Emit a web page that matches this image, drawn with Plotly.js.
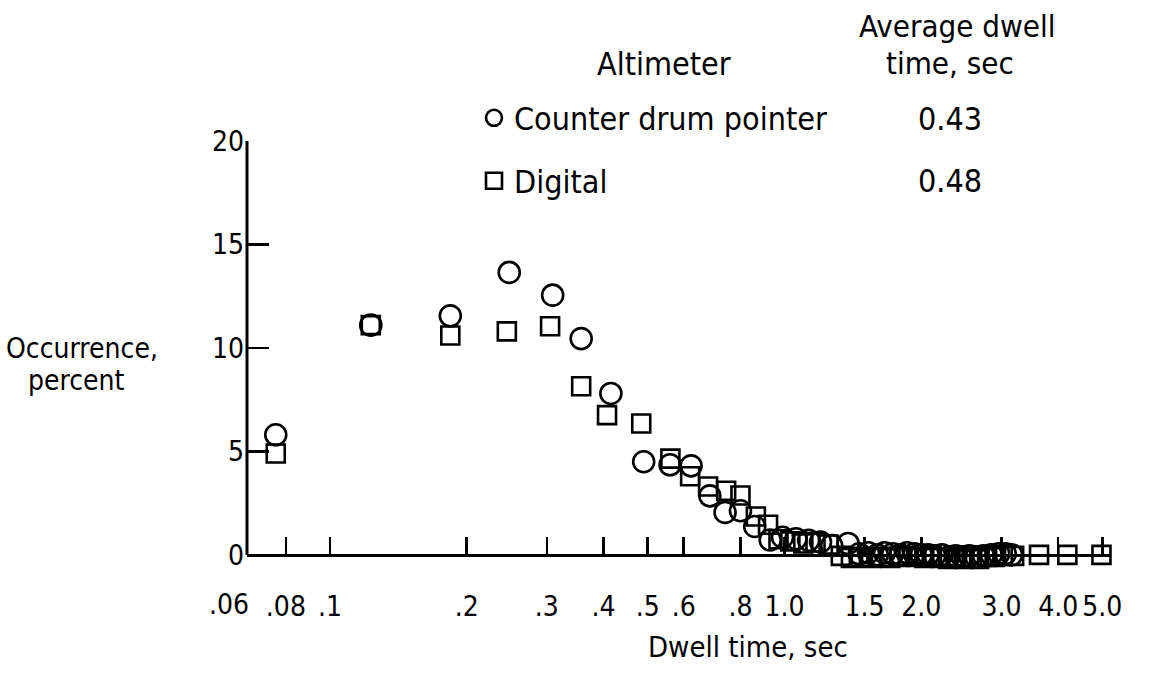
<!DOCTYPE html>
<html>
<head>
<meta charset="utf-8">
<script src="https://cdn.plot.ly/plotly-3.0.1.min.js"></script>
<style>
  html, body { margin: 0; padding: 0; background: #ffffff; }
  #chart { width: 1154px; height: 691px; }
</style>
</head>
<body>
<div id="chart"></div>
<script>
// ---------------- data ----------------
const seriesNames = ['Counter drum pointer', 'Digital'];
const avgDwellText = ['0.43', '0.48'];

const counterX = [0.076, 0.123, 0.184, 0.248, 0.309, 0.357, 0.415, 0.49, 0.56, 0.623, 0.685, 0.74, 0.80, 0.86,
  0.93, 0.99, 1.06, 1.13, 1.20, 1.27, 1.38, 1.46, 1.53, 1.60, 1.66, 1.73, 1.80, 1.86, 1.93, 2.00,
  2.07, 2.14, 2.22, 2.30, 2.38, 2.46, 2.55, 2.64, 2.74, 2.85, 2.96, 3.06, 3.16];
const counterY = [5.8, 11.1, 11.55, 13.65, 12.55, 10.45, 7.8, 4.5, 4.35, 4.3, 2.85, 2.05, 2.13, 1.37,
  0.72, 0.85, 0.78, 0.7, 0.62, 0.45, 0.55, 0.05, 0.1, 0.0, 0.1, 0.05, 0.0, 0.1, 0.05, 0.0,
  0.0, -0.05, 0.0, -0.1, -0.05, -0.1, -0.05, -0.1, -0.05, 0.0, 0.05, 0.05, 0.0];

const digitalX = [0.076, 0.123, 0.184, 0.245, 0.305, 0.357, 0.407, 0.484, 0.561, 0.62, 0.679, 0.744, 0.80,
  0.865, 0.92, 0.97, 1.03, 1.10, 1.17, 1.25, 1.33, 1.40, 1.47, 1.55, 1.63, 1.71, 1.79, 1.87, 1.95,
  2.03, 2.11, 2.20, 2.29, 2.38, 2.48, 2.58, 2.68, 2.79, 2.90, 3.02, 3.20, 3.63, 4.19, 4.98];
const digitalY = [4.9, 11.1, 10.6, 10.8, 11.05, 8.15, 6.75, 6.35, 4.65, 3.8, 3.3, 3.1, 2.87,
  1.85, 1.45, 0.75, 0.65, 0.55, 0.6, 0.5, -0.05, -0.15, -0.1, -0.15, -0.1, -0.15, -0.1, -0.05, -0.1,
  -0.15, -0.1, -0.15, -0.2, -0.15, -0.2, -0.15, -0.2, -0.1, -0.1, -0.05, -0.05, 0.0, 0.0, 0.0];

const xTickVals = [0.06, 0.08, 0.1, 0.2, 0.3, 0.4, 0.5, 0.6, 0.8, 1.0, 1.5, 2.0, 3.0, 4.0, 5.0];
const xTickText = ['.06', '.08', '.1', '.2', '.3', '.4', '.5', '.6', '.8', '1.0', '1.5', '2.0', '3.0', '4.0', '5.0'];
const yTickVals = [0, 5, 10, 15, 20];
const yTickText = ['0', '5', '10', '15', '20'];

const xTitle = 'Dwell time, sec';
const yTitleLines = ['Occurrence,', 'percent'];
const headerAltimeter = 'Altimeter';
const headerAvgLines = ['Average dwell', 'time, sec'];

// ---------------- layout helpers ----------------
const W = 1154, H = 691;
const M = { l: 247, r: 44, t: 141, b: 131 };
const PW = W - M.l - M.r, PH = H - M.t - M.b;
const px = x => (x - M.l) / PW;       // pixel -> paper x
const py = y => (H - M.b - y) / PH;   // pixel -> paper y

const xRange = [Math.log10(0.0657), Math.log10(5.2)];
const yRange = [-0.25, 20];            // a little room below 0 so markers just under the axis stay visible
const xPaper = v => (Math.log10(v) - xRange[0]) / (xRange[1] - xRange[0]); // data -> paper via axis range
const yZeroPaper = (0 - yRange[0]) / (yRange[1] - yRange[0]);

const COND = '"DejaVu Sans Condensed", "DejaVu Sans", sans-serif';
const TICKSIZE = 28;

const LW = 2.6;

const traces = [
  {
    type: 'scatter', mode: 'markers', name: seriesNames[0],
    x: counterX, y: counterY, cliponaxis: false, legend: 'legend',
    marker: { symbol: 'circle-open', size: 21, color: '#000', line: { width: LW, color: '#000' } }
  },
  {
    type: 'scatter', mode: 'markers', name: seriesNames[1],
    x: digitalX, y: digitalY, cliponaxis: false, legend: 'legend2',
    marker: { symbol: 'square-open', size: 18, color: '#000', line: { width: LW, color: '#000' } }
  }
];

const tickValsIn = xTickVals.slice(1); // ticks inside the drawn range
const tickTextIn = xTickText.slice(1);

const annotations = [
  // .06 label sits just left of the axis start
  { xref: 'paper', yref: 'paper', x: xPaper(xTickVals[0]), y: py(604), text: xTickText[0],
    showarrow: false, xanchor: 'center', yanchor: 'middle', font: { family: COND, size: TICKSIZE, color: '#000' } },
  // x title
  { xref: 'paper', yref: 'paper', x: px(748), y: py(647), text: xTitle, showarrow: false,
    xanchor: 'center', yanchor: 'middle', font: { family: COND, size: 29, color: '#000' } },
  // y title (horizontal, two lines)
  { xref: 'paper', yref: 'paper', x: px(82), y: py(348), text: yTitleLines[0], showarrow: false,
    xanchor: 'center', yanchor: 'middle', font: { family: COND, size: 28, color: '#000' } },
  { xref: 'paper', yref: 'paper', x: px(76), y: py(380), text: yTitleLines[1], showarrow: false,
    xanchor: 'center', yanchor: 'middle', font: { family: COND, size: 28, color: '#000' } },
  // legend headers
  { xref: 'paper', yref: 'paper', x: px(664), y: py(64), text: headerAltimeter, showarrow: false,
    xanchor: 'center', yanchor: 'middle', font: { family: COND, size: 32, color: '#000' } },
  { xref: 'paper', yref: 'paper', x: px(957), y: py(26), text: headerAvgLines[0], showarrow: false,
    xanchor: 'center', yanchor: 'middle', font: { family: COND, size: 31, color: '#000' } },
  { xref: 'paper', yref: 'paper', x: px(950), y: py(63), text: headerAvgLines[1], showarrow: false,
    xanchor: 'center', yanchor: 'middle', font: { family: COND, size: 31, color: '#000' } },
  // average dwell values
  { xref: 'paper', yref: 'paper', x: px(950), y: py(119), text: avgDwellText[0], showarrow: false,
    xanchor: 'center', yanchor: 'middle', font: { family: COND, size: 32, color: '#000' } },
  { xref: 'paper', yref: 'paper', x: px(950), y: py(181), text: avgDwellText[1], showarrow: false,
    xanchor: 'center', yanchor: 'middle', font: { family: COND, size: 32, color: '#000' } }
];

const legendCommon = {
  xanchor: 'left', yanchor: 'middle', bgcolor: 'rgba(0,0,0,0)', borderwidth: 0,
  font: { family: COND, size: 32, color: '#000' }, itemclick: false, itemdoubleclick: false
};

const layout = {
  width: W, height: H,
  margin: { l: M.l, r: M.r, t: M.t, b: M.b, pad: 0, autoexpand: false },
  paper_bgcolor: '#fff', plot_bgcolor: '#fff',
  showlegend: true,
  legend: Object.assign({}, legendCommon, { x: px(474), y: py(118) }),
  legend2: Object.assign({}, legendCommon, { x: px(474), y: py(181) }),
  xaxis: {
    type: 'log',
    range: xRange,
    anchor: 'free', position: yZeroPaper,
    tickmode: 'array', tickvals: tickValsIn, ticktext: tickTextIn,
    ticks: 'inside', ticklen: 17, tickwidth: LW, tickcolor: '#000', tickangle: 0,
    showline: true, linewidth: LW + 0.4, linecolor: '#000',
    showgrid: false, zeroline: false, automargin: false,
    ticklabelstandoff: 26,
    tickfont: { family: COND, size: TICKSIZE, color: '#000' }
  },
  yaxis: {
    range: yRange,
    tickmode: 'array', tickvals: yTickVals, ticktext: yTickText,
    ticks: 'inside', ticklen: 22, tickwidth: LW, tickcolor: '#000',
    showline: false,
    showgrid: false, zeroline: false, automargin: false,
    ticklabelstandoff: 2,
    tickfont: { family: COND, size: TICKSIZE, color: '#000' }
  },
  // y-axis spine drawn from 0 to 20 only, so it meets the x axis at the corner
  shapes: [
    { type: 'line', xref: 'paper', yref: 'y', x0: 0, x1: 0, y0: yTickVals[0], y1: yTickVals[yTickVals.length - 1],
      line: { color: '#000', width: LW + 0.4 }, layer: 'above' }
  ],
  annotations: annotations
};

Plotly.newPlot('chart', traces, layout, { staticPlot: true, displayModeBar: false });
</script>
</body>
</html>
